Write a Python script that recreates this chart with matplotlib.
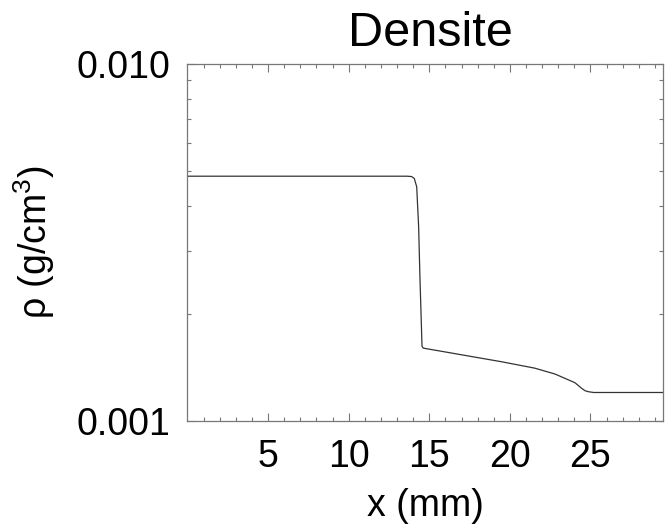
#!/usr/bin/env python3

"""
=============================================================
Densite profile (log scale)

Outputs
--------
out.png
=============================================================
"""

import matplotlib

matplotlib.use("Agg")

import matplotlib.pyplot as plt
from matplotlib.ticker import FixedLocator, FuncFormatter, LogLocator, NullFormatter

# ============================================================
# Data
# ============================================================

x_mm = [
    0.0, 13.6, 13.9, 14.07, 14.22, 14.34, 14.42, 14.55, 14.63,
    16.0, 17.5, 19.47, 21.55, 22.8, 24.04, 24.45, 24.66, 24.87,
    25.2, 29.5,
]

rho = [
    0.00485, 0.00485, 0.00484, 0.00478, 0.00453, 0.00350, 0.00254,
    0.00162, 0.00160, 0.001561, 0.001519, 0.001466, 0.001406,
    0.001354, 0.00128, 0.001235, 0.001216, 0.001208, 0.001202,
    0.001202,
]

x_ticks = [5, 10, 15, 20, 25]
y_ticks = [0.001, 0.010]

title = "Densite"
x_label = "x (mm)"
y_label = r"ρ (g/cm$^{3}$)"

# ============================================================
# Style
# ============================================================

plt.rcParams["font.family"] = ["Liberation Sans", "DejaVu Sans"]
plt.rcParams["mathtext.fontset"] = "custom"
plt.rcParams["mathtext.rm"] = "Liberation Sans"
plt.rcParams["mathtext.it"] = "Liberation Sans:italic"
plt.rcParams["mathtext.bf"] = "Liberation Sans:bold"

frame_color = "#777777"
line_color = "#333333"

# ============================================================
# Plot
# ============================================================

fig = plt.figure(figsize=(6.66, 5.26), dpi=100)
ax = fig.add_axes([0.2815, 0.1996, 0.9955 - 0.2815, 0.8783 - 0.1996])

ax.plot(x_mm, rho, color=line_color, linewidth=0.9)

ax.set_yscale("log")
ax.set_xlim(0, 29.5)
ax.set_ylim(0.001, 0.010)

ax.xaxis.set_major_locator(FixedLocator(x_ticks))
ax.xaxis.set_minor_locator(FixedLocator([v for v in range(1, 30) if v % 5]))

ax.yaxis.set_major_locator(FixedLocator(y_ticks))
ax.yaxis.set_major_formatter(FuncFormatter(lambda v, _: f"{v:.3f}"))
ax.yaxis.set_minor_locator(LogLocator(base=10, subs=range(2, 10)))
ax.yaxis.set_minor_formatter(NullFormatter())

ax.tick_params(
    which="both", direction="in", top=True, right=True,
    color=frame_color, labelsize=27,
)
ax.tick_params(which="major", length=6, width=0.8)
ax.tick_params(which="minor", length=3, width=0.8)
ax.tick_params(axis="x", pad=13)
ax.tick_params(axis="y", pad=12)

for spine in ax.spines.values():
    spine.set_color(frame_color)
    spine.set_linewidth(0.9)

ax.set_title(title, fontsize=35, pad=13, x=0.51)
ax.set_xlabel(x_label, fontsize=27, labelpad=9)
ax.set_ylabel(y_label, fontsize=27, labelpad=14)

fig.savefig("out.png", dpi=100)
plt.close(fig)
